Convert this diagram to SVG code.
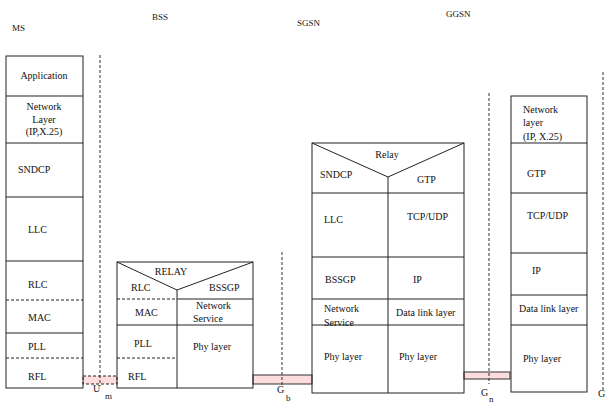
<svg xmlns="http://www.w3.org/2000/svg" width="608" height="403" viewBox="0 0 608 403">
<style>
text{font-family:"Liberation Serif","Times New Roman",Times,serif;font-size:10px;fill:#111}
.t{font-size:9px}
.s{fill:none;stroke:#222;stroke-width:1}
.d{fill:none;stroke:#222;stroke-width:1;stroke-dasharray:3 2}
.if{fill:none;stroke:#333;stroke-width:1;stroke-dasharray:3 2}
.pk{fill:#fcdcdc;stroke:#333;stroke-width:1}
.pkd{fill:#fcdcdc;stroke:#222;stroke-width:1;stroke-dasharray:3 2}
.c{text-anchor:middle}
</style>
<rect width="608" height="403" fill="#fff"/>
<g id="titles">
<text class="t" x="12" y="31">MS</text>
<text class="t" x="152" y="20">BSS</text>
<text class="t" x="297" y="26">SGSN</text>
<text class="t" x="446" y="17">GGSN</text>
</g>
<g id="connectors">
<rect x="83" y="376" width="34" height="8" class="pkd"/>
<rect x="253" y="375" width="59" height="9" class="pk"/>
<rect x="464" y="372" width="46" height="7" class="pk"/>
<line class="if" x1="100" y1="55" x2="100" y2="386"/>
<line class="if" x1="282" y1="252" x2="282" y2="386"/>
<line class="if" x1="489" y1="93" x2="489" y2="384"/>
<line class="if" x1="603" y1="72" x2="603" y2="392"/>
<text x="93" y="392">U</text><text class="t" x="105" y="399">m</text>
<text x="277" y="393">G</text><text class="t" x="286" y="401">b</text>
<text x="481" y="396">G</text><text class="t" x="489" y="402">n</text>
<text x="598" y="397">G</text>
</g>
<g id="ms">
<rect class="s" x="6" y="56" width="77" height="332"/>
<line class="s" x1="6" y1="96" x2="83" y2="96"/>
<line class="s" x1="6" y1="143" x2="83" y2="143"/>
<line class="s" x1="6" y1="197" x2="83" y2="197"/>
<line class="s" x1="6" y1="261" x2="83" y2="261"/>
<line class="d" x1="6" y1="300" x2="83" y2="300"/>
<line class="s" x1="6" y1="333" x2="83" y2="333"/>
<line class="d" x1="6" y1="358" x2="83" y2="358"/>
<text class="c" x="44" y="79">Application</text>
<text class="c" x="44" y="110">Network</text>
<text class="c" x="44" y="123">Layer</text>
<text class="c" x="44" y="135">(IP,X.25)</text>
<text x="18" y="173">SNDCP</text>
<text x="28" y="233">LLC</text>
<text x="28" y="288">RLC</text>
<text x="28" y="321">MAC</text>
<text x="28" y="350">PLL</text>
<text x="28" y="380">RFL</text>
</g>
<g id="bss">
<rect class="s" x="117" y="262" width="136" height="126"/>
<polyline class="s" points="117,262 177,290 253,262"/>
<line class="s" x1="177" y1="290" x2="177" y2="388"/>
<line class="d" x1="117" y1="299" x2="177" y2="299"/>
<line class="s" x1="177" y1="299" x2="253" y2="299"/>
<line class="s" x1="117" y1="325" x2="253" y2="325"/>
<line class="d" x1="117" y1="358" x2="177" y2="358"/>
<text class="c" x="171" y="275">RELAY</text>
<text x="131" y="291">RLC</text>
<text x="209" y="291">BSSGP</text>
<text x="135" y="316">MAC</text>
<text x="196" y="309">Network</text>
<text x="193" y="322">Service</text>
<text x="134" y="347">PLL</text>
<text x="193" y="350">Phy layer</text>
<text x="128" y="380">RFL</text>
</g>
<g id="sgsn">
<rect class="s" x="312" y="143" width="152" height="250"/>
<polyline class="s" points="312,143 388,177 464,143"/>
<line class="s" x1="388" y1="177" x2="388" y2="393"/>
<line class="s" x1="312" y1="193" x2="464" y2="193"/>
<line class="s" x1="312" y1="257" x2="464" y2="257"/>
<line class="s" x1="312" y1="299" x2="464" y2="299"/>
<line class="s" x1="312" y1="325" x2="464" y2="325"/>
<text class="c" x="387" y="158">Relay</text>
<text x="320" y="178">SNDCP</text>
<text x="417" y="183">GTP</text>
<text x="324" y="223">LLC</text>
<text x="407" y="220">TCP/UDP</text>
<text x="325" y="283">BSSGP</text>
<text x="413" y="283">IP</text>
<text x="324" y="312">Network</text>
<text x="324" y="326">Service</text>
<text x="396" y="316">Data link layer</text>
<text x="324" y="360">Phy layer</text>
<text x="399" y="360">Phy layer</text>
</g>
<g id="ggsn">
<rect class="s" x="511" y="96" width="76" height="296"/>
<line class="s" x1="511" y1="143" x2="587" y2="143"/>
<line class="s" x1="511" y1="193" x2="587" y2="193"/>
<line class="s" x1="511" y1="253" x2="587" y2="253"/>
<line class="s" x1="511" y1="295" x2="587" y2="295"/>
<line class="s" x1="511" y1="325" x2="587" y2="325"/>
<text x="523" y="113">Network</text>
<text x="523" y="126">layer</text>
<text x="523" y="140">(IP, X.25)</text>
<text x="527" y="177">GTP</text>
<text x="527" y="219">TCP/UDP</text>
<text x="532" y="274">IP</text>
<text x="519" y="312">Data link layer</text>
<text x="523" y="362">Phy layer</text>
</g>
</svg>
